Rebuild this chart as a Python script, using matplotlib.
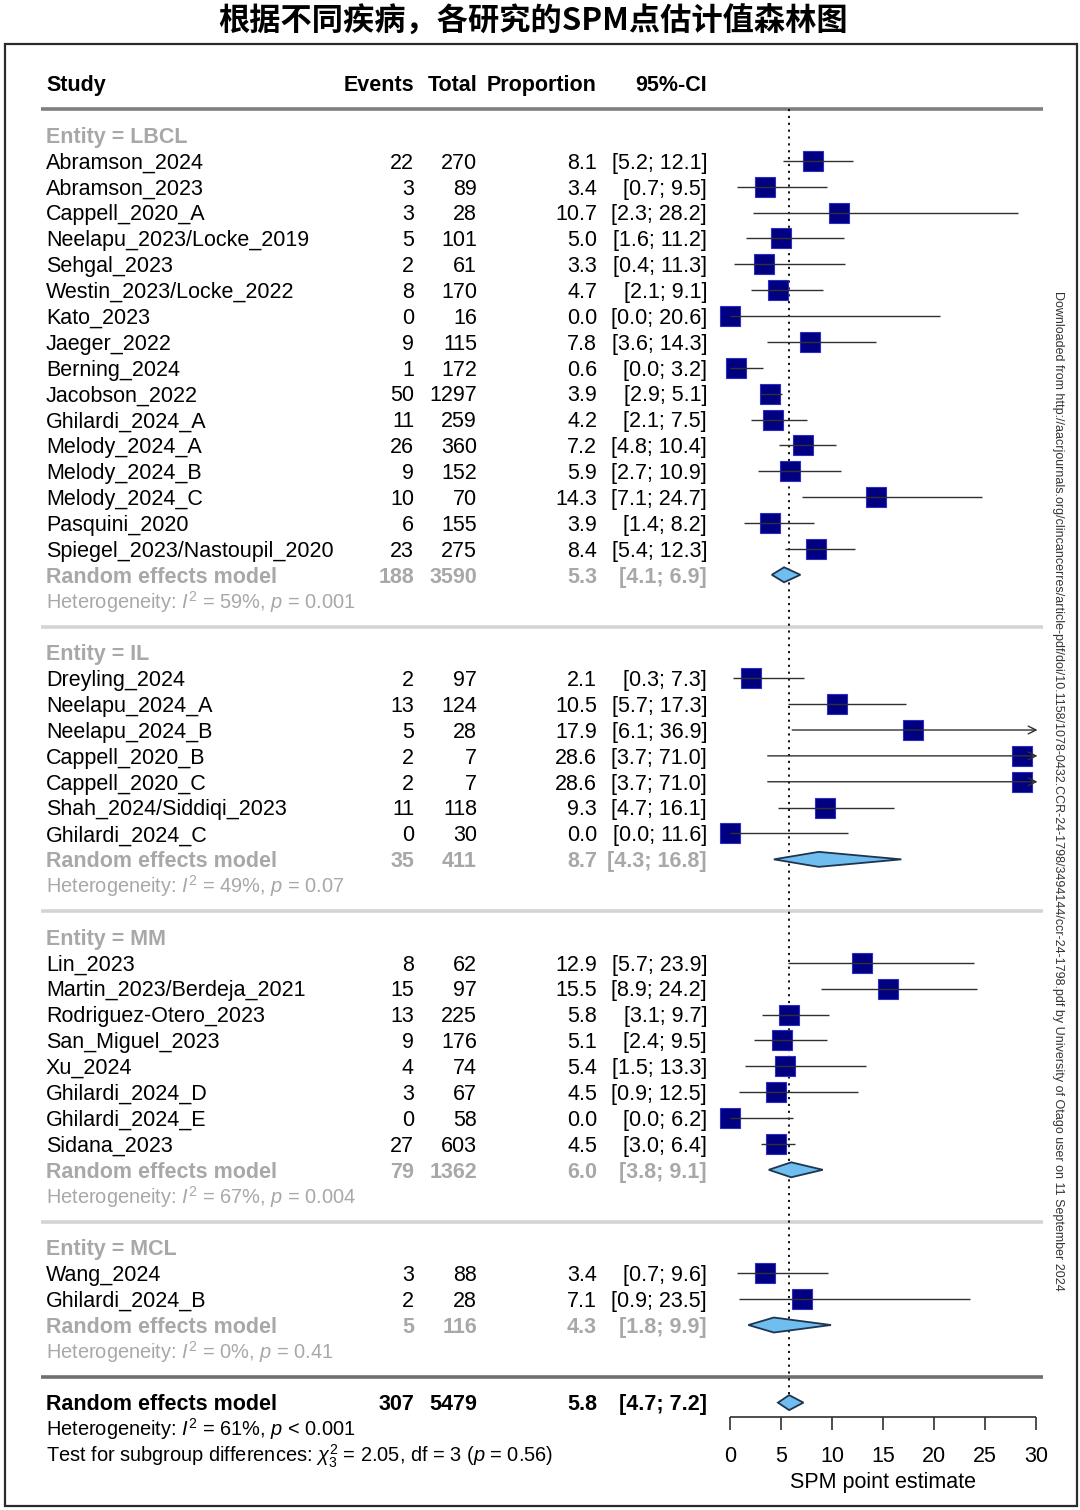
import matplotlib

matplotlib.use("Agg")
import matplotlib.pyplot as plt
from matplotlib.patches import Polygon, Rectangle

# ---- data ----
lbcl_study = ["Abramson_2024", "Abramson_2023", "Cappell_2020_A", "Neelapu_2023/Locke_2019", "Sehgal_2023",
              "Westin_2023/Locke_2022", "Kato_2023", "Jaeger_2022", "Berning_2024", "Jacobson_2022",
              "Ghilardi_2024_A", "Melody_2024_A", "Melody_2024_B", "Melody_2024_C", "Pasquini_2020",
              "Spiegel_2023/Nastoupil_2020"]
lbcl_events = [22, 3, 3, 5, 2, 8, 0, 9, 1, 50, 11, 26, 9, 10, 6, 23]
lbcl_total = [270, 89, 28, 101, 61, 170, 16, 115, 172, 1297, 259, 360, 152, 70, 155, 275]
lbcl_prop = [8.1, 3.4, 10.7, 5.0, 3.3, 4.7, 0.0, 7.8, 0.6, 3.9, 4.2, 7.2, 5.9, 14.3, 3.9, 8.4]
lbcl_lo = [5.2, 0.7, 2.3, 1.6, 0.4, 2.1, 0.0, 3.6, 0.0, 2.9, 2.1, 4.8, 2.7, 7.1, 1.4, 5.4]
lbcl_hi = [12.1, 9.5, 28.2, 11.2, 11.3, 9.1, 20.6, 14.3, 3.2, 5.1, 7.5, 10.4, 10.9, 24.7, 8.2, 12.3]

il_study = ["Dreyling_2024", "Neelapu_2024_A", "Neelapu_2024_B", "Cappell_2020_B", "Cappell_2020_C",
            "Shah_2024/Siddiqi_2023", "Ghilardi_2024_C"]
il_events = [2, 13, 5, 2, 2, 11, 0]
il_total = [97, 124, 28, 7, 7, 118, 30]
il_prop = [2.1, 10.5, 17.9, 28.6, 28.6, 9.3, 0.0]
il_lo = [0.3, 5.7, 6.1, 3.7, 3.7, 4.7, 0.0]
il_hi = [7.3, 17.3, 36.9, 71.0, 71.0, 16.1, 11.6]

mm_study = ["Lin_2023", "Martin_2023/Berdeja_2021", "Rodriguez-Otero_2023", "San_Miguel_2023", "Xu_2024",
            "Ghilardi_2024_D", "Ghilardi_2024_E", "Sidana_2023"]
mm_events = [8, 15, 13, 9, 4, 3, 0, 27]
mm_total = [62, 97, 225, 176, 74, 67, 58, 603]
mm_prop = [12.9, 15.5, 5.8, 5.1, 5.4, 4.5, 0.0, 4.5]
mm_lo = [5.7, 8.9, 3.1, 2.4, 1.5, 0.9, 0.0, 3.0]
mm_hi = [23.9, 24.2, 9.7, 9.5, 13.3, 12.5, 6.2, 6.4]

mcl_study = ["Wang_2024", "Ghilardi_2024_B"]
mcl_events = [3, 2]
mcl_total = [88, 28]
mcl_prop = [3.4, 7.1]
mcl_lo = [0.7, 0.9]
mcl_hi = [9.6, 23.5]

entities = ["LBCL", "IL", "MM", "MCL"]
pooled_events = [188, 35, 79, 5]
pooled_total = [3590, 411, 1362, 116]
pooled_est = [5.3, 8.7, 6.0, 4.3]
pooled_lo = [4.1, 4.3, 3.8, 1.8]
pooled_hi = [6.9, 16.8, 9.1, 9.9]
het_i2 = ["59%", "49%", "67%", "0%"]
het_p = ["= 0.001", "= 0.07", "= 0.004", "= 0.41"]

overall = dict(events=307, total=5479, est=5.8, lo=4.7, hi=7.2)
overall_i2, overall_p = "61%", "< 0.001"
subgroup_test = "Test for subgroup differences: $\\chi^2_3$ = 2.05, df = 3 ($p$ = 0.56)"
x_ticks = [0, 5, 10, 15, 20, 25, 30]
x_label = "SPM point estimate"
title = "根据不同疾病，各研究的SPM点估计值森林图"

groups = [
    (lbcl_study, lbcl_events, lbcl_total, lbcl_prop, lbcl_lo, lbcl_hi),
    (il_study, il_events, il_total, il_prop, il_lo, il_hi),
    (mm_study, mm_events, mm_total, mm_prop, mm_lo, mm_hi),
    (mcl_study, mcl_events, mcl_total, mcl_prop, mcl_lo, mcl_hi),
]

# ---- style ----
TXT = "Liberation Sans"
plt.rcParams.update({
    "font.family": [TXT, "DejaVu Sans"],
    "mathtext.fontset": "custom", "mathtext.rm": TXT, "mathtext.it": TXT + ":italic",
    "mathtext.bf": TXT + ":bold", "mathtext.sf": TXT,
})
FS = 15.5        # table text
FS_HET = 14.4    # heterogeneity lines
GREY = "#a8a8a8"
SQ_FACE = "#000080"
SQ_EDGE = "#2c2cc8"
DIA_FACE = "#70bdf0"
DIA_EDGE = "#1d3550"
LINE = "#303030"

W, H = 1080, 1510
ROW0, ROWH = 135.0, 25.87            # pixel centre of row 0, row height in pixels
Y_TOP = -ROW0 / ROWH
Y_BOT = (H - ROW0) / ROWH
BASE = 0.30                          # baseline offset (rows) so caps centre on the row

# column anchors (pixels)
X_STUDY, X_EVENTS, X_TOTAL, X_PROP, X_CI = 46, 414, 477, 597, 707
X0_PIX, X30_PIX = 730, 1036

fig = plt.figure(figsize=(W / 100, H / 100), dpi=100)

frame = fig.add_axes([0, 0, 1, 1], zorder=0)
frame.set_xlim(0, W)
frame.set_ylim(H, 0)
frame.axis("off")

tab = fig.add_axes([0, 0, 1, 1], zorder=1)
tab.set_xlim(0, W)
tab.set_ylim(Y_BOT, Y_TOP)
tab.axis("off")

ax = fig.add_axes([X0_PIX / W, 0, (X30_PIX - X0_PIX) / W, 1], zorder=2)
ax.set_xlim(0, 30)
ax.set_ylim(Y_BOT, Y_TOP)
ax.axis("off")


def put(x, row, s, ha="left", color="black", bold=False, size=FS):
    tab.text(x, row + BASE, s, ha=ha, va="baseline", color=color, fontsize=size,
             fontweight="bold" if bold else "normal")


def row_text(row, name, ev, tot, est, lo, hi, color="black", bold=False):
    put(X_STUDY, row, name, color=color, bold=bold)
    put(X_EVENTS, row, f"{ev}", "right", color, bold)
    put(X_TOTAL, row, f"{tot}", "right", color, bold)
    put(X_PROP, row, f"{est:.1f}", "right", color, bold)
    put(X_CI, row, f"[{lo:.1f}; {hi:.1f}]", "right", color, bold)


def diamond(row, est, lo, hi, h=0.29):
    ax.add_patch(Polygon([(lo, row), (est, row - h), (hi, row), (est, row + h)], closed=True,
                         facecolor=DIA_FACE, edgecolor=DIA_EDGE, linewidth=1.3, zorder=4, clip_on=False))


# header
put(X_STUDY, -2, "Study", bold=True)
put(X_EVENTS, -2, "Events", "right", bold=True)
put(X_TOTAL, -2, "Total", "right", bold=True)
put(X_PROP, -2, "Proportion", "right", bold=True)
put(X_CI, -2, "95%-CI", "right", bold=True)
tab.hlines(-1, 41, 1043, color="#7f7f7f", linewidth=2.6)

row = 0
for gi, (study, ev, tot, prop, lo, hi) in enumerate(groups):
    put(X_STUDY, row, f"Entity = {entities[gi]}", color=GREY, bold=True)
    row += 1
    for k in range(len(study)):
        row_text(row, study[k], ev[k], tot[k], prop[k], lo[k], hi[k])
        ax.plot(prop[k], row, "s", markersize=14, markerfacecolor=SQ_FACE, markeredgecolor=SQ_EDGE,
                markeredgewidth=0.8, zorder=2, clip_on=False)
        if hi[k] > 30:
            ax.annotate("", xy=(30.15, row), xytext=(lo[k], row),
                        arrowprops=dict(arrowstyle="->", lw=1.0, color=LINE, mutation_scale=14,
                                        shrinkA=0, shrinkB=0), zorder=3, annotation_clip=False)
        else:
            ax.hlines(row, lo[k], hi[k], color=LINE, linewidth=1.0, zorder=3)
        row += 1
    row_text(row, "Random effects model", pooled_events[gi], pooled_total[gi], pooled_est[gi],
             pooled_lo[gi], pooled_hi[gi], color=GREY, bold=True)
    diamond(row, pooled_est[gi], pooled_lo[gi], pooled_hi[gi])
    row += 1
    put(X_STUDY, row, f"Heterogeneity: $I^2$ = {het_i2[gi]}, $p$ {het_p[gi]}", color=GREY, size=FS_HET)
    row += 1
    last = gi == len(groups) - 1
    tab.hlines(row, 41, 1043, color="#6f6f6f" if last else "#d4d4d4", linewidth=2.6)
    row += 1

# overall
row_text(row, "Random effects model", overall["events"], overall["total"], overall["est"],
         overall["lo"], overall["hi"], bold=True)
diamond(row, overall["est"], overall["lo"], overall["hi"])
put(X_STUDY, row + 1, f"Heterogeneity: $I^2$ = {overall_i2}, $p$ {overall_p}", size=FS_HET)
put(X_STUDY, row + 2, subgroup_test, size=FS_HET)

# reference line at the pooled estimate
ax.vlines(overall["est"], -1, row - 0.3, color="black", linestyle=(0, (1.2, 2.6)), linewidth=1.3, zorder=1)

# x axis drawn under the plot
axis_row = row + 0.55
ax.hlines(axis_row, x_ticks[0], x_ticks[-1], color=LINE, linewidth=1.2, clip_on=False)
for t in x_ticks:
    ax.vlines(t, axis_row, axis_row + 0.5, color=LINE, linewidth=1.2, clip_on=False)
    ax.text(t, row + 2 + BASE, f"{t}", ha="center", va="baseline", fontsize=FS)
ax.text(15, row + 3 + BASE, x_label, ha="center", va="baseline", fontsize=FS)

# frame, title and side note
frame.add_patch(Rectangle((4.5, 43.5), 1072, 1462, fill=False, linewidth=1.6, edgecolor="#2a2a2a"))
frame.text(533, 21, title, ha="center", va="center", fontsize=22.5, fontweight="bold",
           family=["Noto Sans CJK SC", "DejaVu Sans"])
frame.text(1058, 791, "Downloaded from http://aacrjournals.org/clincancerres/article-pdf/doi/10.1158/1078-0432."
           "CCR-24-1798/3494144/ccr-24-1798.pdf by University of Otago user on 11 September 2024",
           rotation=270, ha="center", va="center", fontsize=9.0, color="#333333",
           family=["Liberation Sans Narrow", TXT])

fig.savefig("out.png", dpi=100)
